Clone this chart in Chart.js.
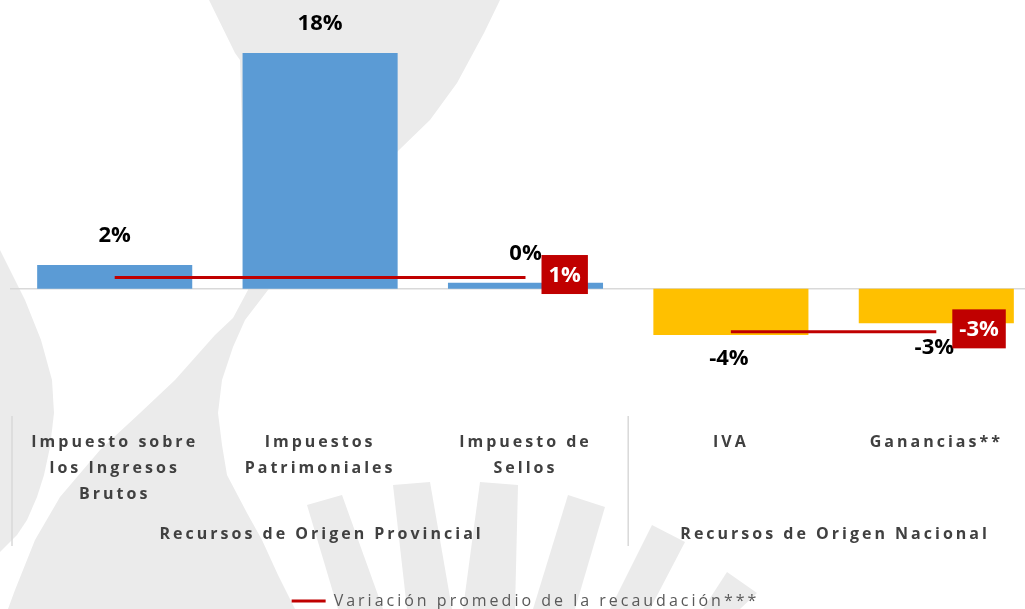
<!DOCTYPE html>
<html>
<head>
<meta charset="utf-8">
<script src="https://cdn.jsdelivr.net/npm/chart.js@4.4.1/dist/chart.umd.min.js"></script>
<style>
html,body{margin:0;padding:0;overflow:hidden;background:#fff;width:1025px;height:609px}
#wrap{position:absolute;left:0;top:0;width:1040px;height:619px}
canvas{display:block}
</style>
</head>
<body>
<div id="wrap"><canvas id="c" width="1040" height="619"></canvas></div>
<script>
// ---- data ----
const categories = [
  ['Impuesto sobre', 'los Ingresos', 'Brutos'],
  ['Impuestos', 'Patrimoniales'],
  ['Impuesto de', 'Sellos'],
  ['IVA'],
  ['Ganancias**']
];
const groupLabels = ['Recursos de Origen Provincial', 'Recursos de Origen Nacional'];
const groupFirst = [0, 3];
const groupLast = [2, 4];
const variation = [1.8, 18, 0.45, -3.55, -2.65];
const provincialAverage = [0.85, 0.85, 0.85, null, null];
const nationalAverage = [null, null, null, -3.3, -3.3];
const legendLabel = 'Variación promedio de la recaudación***';

// ---- styles ----
const provColor = '#5B9BD5';
const natColor = '#FFC000';
const avgColor = '#C00000';
const barColors = variation.map((v, i) => (i < groupFirst[1] ? provColor : natColor));
const fmt = v => Number(v).toFixed(0) + '%';

// decorative watermark (background only)
const watermark = [
  [[209,0],[500,0],[484,33],[457,83],[430,120],[399,150],[330,222],[290,262],[268,290],[245,320],[233,347],[222,380],[218,413],[222,445],[227,475],[247,513],[262,540],[278,575],[295,609],[8,609],[15,590],[35,540],[60,497],[100,450],[140,413],[175,380],[215,335],[233,318],[248,290],[244,200],[240,60],[235,53]],
  [[0,250],[25,300],[41,340],[52,380],[54,413],[50,447],[44,475],[37,497],[27,520],[17,535],[0,552]],
  [[307,505],[342,495],[383,609],[338,609]],
  [[393,485],[430,482],[452,609],[407,609]],
  [[480,482],[518,485],[515,609],[463,609]],
  [[568,495],[605,507],[575,609],[533,609]],
  [[652,525],[685,542],[650,609],[610,609]],
  [[727,572],[757,593],[740,609],[703,609]]
];

const decor = {
  id: 'decor',
  beforeUpdate(chart) { chart.ctx.letterSpacing = '3px'; },
  beforeDraw(chart) {
    const ctx = chart.ctx;
    ctx.letterSpacing = '3px';
    ctx.save();
    ctx.fillStyle = '#EBEBEB';
    watermark.forEach(poly => {
      ctx.beginPath();
      poly.forEach((p, i) => (i ? ctx.lineTo(p[0], p[1]) : ctx.moveTo(p[0], p[1])));
      ctx.closePath();
      ctx.fill();
    });
    ctx.restore();
  },
  beforeDatasetsDraw(chart) {
    const {ctx, chartArea, scales: {x, y}} = chart;
    ctx.save();
    // zero line
    const y0 = y.getPixelForValue(0);
    ctx.strokeStyle = '#D9D9D9';
    ctx.lineWidth = 1.5;
    ctx.beginPath();
    ctx.moveTo(chartArea.left - 2, y0);
    ctx.lineTo(chartArea.right, y0);
    ctx.stroke();
    // group separators + group labels
    const half = (x.getPixelForValue(1) - x.getPixelForValue(0)) / 2;
    const bounds = [x.getPixelForValue(0) - half];
    groupLast.forEach(i => bounds.push(x.getPixelForValue(i) + half));
    bounds.forEach(bx => {
      ctx.beginPath();
      ctx.moveTo(bx, chartArea.bottom - 5);
      ctx.lineTo(bx, x.bottom + 31);
      ctx.stroke();
    });
    ctx.letterSpacing = '3px';
    ctx.font = 'bold 16px "Open Sans"';
    ctx.fillStyle = '#404040';
    ctx.textAlign = 'center';
    ctx.textBaseline = 'middle';
    groupLabels.forEach((g, k) => {
      const cx = (x.getPixelForValue(groupFirst[k]) + x.getPixelForValue(groupLast[k])) / 2;
      ctx.fillText(g, cx + 1.5, x.bottom + 19);
    });
    ctx.restore();
  },
  afterDatasetsDraw(chart) {
    const ctx = chart.ctx;
    ctx.save();
    ctx.letterSpacing = '0px';
    ctx.textAlign = 'center';
    ctx.textBaseline = 'middle';
    ctx.font = 'bold 22px "Open Sans"';
    ctx.fillStyle = '#000';
    const bars = chart.getDatasetMeta(0).data;
    bars.forEach((el, i) => {
      const v = variation[i];
      const ly = v >= 0 ? el.y - 29 : el.y + 24;
      ctx.fillText(fmt(v), el.x - (v < 0 ? 2 : 0), ly);
    });
    [1, 2].forEach(di => {
      const data = chart.data.datasets[di].data;
      let last = -1;
      data.forEach((v, i) => { if (v !== null) last = i; });
      const pt = chart.getDatasetMeta(di).data[last];
      const txt = fmt(data[last]);
      const w = ctx.measureText(txt).width + 14;
      const h = 39;
      const left = pt.x + 16;
      const cy = pt.y - 3;
      ctx.fillStyle = avgColor;
      ctx.fillRect(left, cy - h / 2, w, h);
      ctx.fillStyle = '#fff';
      ctx.fillText(txt, left + w / 2, cy + 1);
    });
    ctx.restore();
  }
};

new Chart(document.getElementById('c'), {
  type: 'bar',
  data: {
    labels: categories,
    datasets: [
      {
        type: 'bar',
        label: 'Variación',
        data: variation,
        backgroundColor: barColors,
        borderWidth: 0,
        categoryPercentage: 1,
        barPercentage: 0.755,
        order: 2
      },
      {
        type: 'line',
        label: legendLabel,
        data: provincialAverage,
        borderColor: avgColor,
        backgroundColor: avgColor,
        borderWidth: 3,
        pointRadius: 0,
        fill: false,
        spanGaps: false,
        order: 1
      },
      {
        type: 'line',
        label: legendLabel,
        data: nationalAverage,
        borderColor: avgColor,
        backgroundColor: avgColor,
        borderWidth: 3,
        pointRadius: 0,
        fill: false,
        spanGaps: false,
        order: 1
      }
    ]
  },
  options: {
    responsive: false,
    animation: false,
    devicePixelRatio: 1,
    layout: { padding: { left: 12, right: 1, top: 0, bottom: 0 } },
    scales: {
      x: {
        grid: { display: false, drawTicks: false },
        border: { display: false },
        ticks: {
          color: '#404040',
          padding: 8,
          autoSkip: false,
          maxRotation: 0,
          font: { family: 'Open Sans', size: 16, weight: 'bold', lineHeight: 1.625 }
        }
      },
      y: { display: false, min: -10.11, max: 22.05 }
    },
    plugins: {
      legend: {
        position: 'bottom',
        title: { display: true, text: '', padding: { top: 0, bottom: 63.6 }, font: { size: 12, lineHeight: 1.2 } },
        labels: {
          usePointStyle: true,
          pointStyle: 'line',
          pointStyleWidth: 34,
          boxHeight: 16,
          padding: 0,
          color: '#595959',
          font: { family: 'Open Sans', size: 16 },
          filter: item => item.datasetIndex === 1
        }
      },
      tooltip: { enabled: false }
    }
  },
  plugins: [decor]
});
</script>
</body>
</html>
